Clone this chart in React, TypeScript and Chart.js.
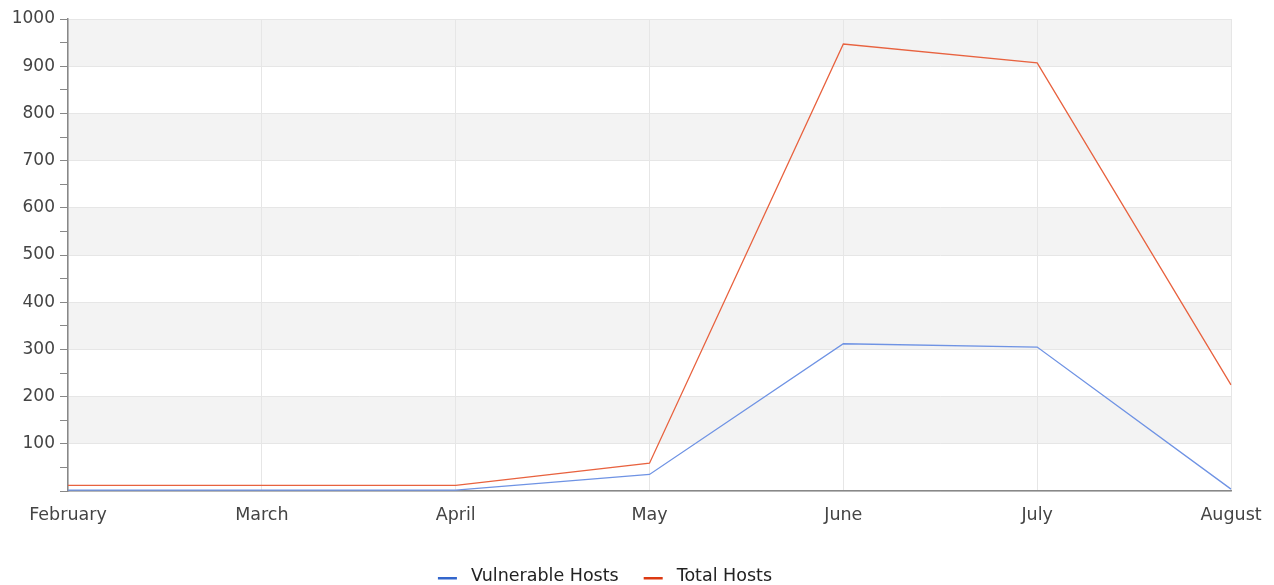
import React, { useEffect, useRef } from "react";
import { Chart, registerables } from "chart.js";

Chart.register(...registerables);

const months = ["February", "March", "April", "May", "June", "July", "August"];
const vulnerableHosts = [2, 2, 2, 35, 312, 305, 4];
const totalHosts = [12, 12, 12, 59, 947, 907, 225];
const yTicks = [100, 200, 300, 400, 500, 600, 700, 800, 900, 1000];
const seriesNames = ["Vulnerable Hosts", "Total Hosts"];
const legendColors = ["#3366cc", "#dc3912"];
const lineColors = ["#6f93e4", "#e8623f"];

const FONT = "DejaVu Sans";

const bandPlugin = {
  id: "bands",
  beforeDraw(chart: any) {
    const { ctx, chartArea, scales } = chart;
    const y = scales.y;
    ctx.save();
    ctx.fillStyle = "#f3f3f3";
    for (let v = 100; v < 1000; v += 200) {
      const top = y.getPixelForValue(v + 100);
      const bot = y.getPixelForValue(v);
      ctx.fillRect(chartArea.left, top, chartArea.right - chartArea.left, bot - top);
    }
    ctx.restore();
  },
};

const legendPlugin = {
  id: "customLegend",
  afterDraw(chart: any) {
    const { ctx } = chart;
    const datasets = chart.data.datasets;
    ctx.save();
    ctx.font = `17.5px "${FONT}"`;
    ctx.textBaseline = "alphabetic";
    const markW = 19;
    const markGap = 14;
    const itemGap = 25;
    const widths = datasets.map((d: any) => markW + markGap + ctx.measureText(d.label).width);
    const total = widths.reduce((a: number, b: number) => a + b, 0) + itemGap * (datasets.length - 1);
    let x = 605 - total / 2;
    const base = 581;
    datasets.forEach((d: any, i: number) => {
      ctx.fillStyle = d.backgroundColor;
      ctx.fillRect(x, 577, markW, 2.5);
      ctx.fillStyle = "#222";
      ctx.textAlign = "left";
      ctx.fillText(d.label, x + markW + markGap, base);
      x += widths[i] + itemGap;
    });
    ctx.restore();
  },
};

export default function App() {
  const ref = useRef<HTMLCanvasElement>(null);
  useEffect(() => {
    document.body.style.margin = "0";
    const chart = new Chart(ref.current!, {
      type: "line",
      data: {
        labels: months,
        datasets: [
          {
            label: seriesNames[0],
            data: vulnerableHosts,
            borderColor: lineColors[0],
            backgroundColor: legendColors[0],
            borderWidth: 1.3,
            pointRadius: 0,
            tension: 0,
          },
          {
            label: seriesNames[1],
            data: totalHosts,
            borderColor: lineColors[1],
            backgroundColor: legendColors[1],
            borderWidth: 1.3,
            pointRadius: 0,
            tension: 0,
          },
        ],
      },
      plugins: [bandPlugin, legendPlugin],
      options: {
        animation: false,
        responsive: false,
        layout: { padding: { left: 0, right: 43, top: 19, bottom: 44 } },
        plugins: {
          tooltip: { enabled: false },
          legend: { display: false },
        },
        scales: {
          x: {
            offset: false,
            grid: {
              color: "#e6e6e6",
              drawTicks: false,
            },
            border: { color: "#888", width: 1.5 },
            ticks: {
              color: "#444",
              font: { family: FONT, size: 17.5 },
              padding: 14,
              maxRotation: 0,
              autoSkip: false,
            },
            afterFit: (s: any) => {
              s.height = 50;
              s.paddingLeft = 0;
              s.paddingRight = 0;
            },
          },
          y: {
            min: 0,
            max: 1000,
            grid: {
              color: (c: any) => (c.tick && c.tick.value % 100 === 0 ? "#e6e6e6" : "rgba(0,0,0,0)"),
              tickColor: "#888",
              tickLength: 8,
            },
            border: { color: "#888", width: 1.5 },
            ticks: {
              stepSize: 50,
              color: "#444",
              font: { family: FONT, size: 17 },
              padding: 5,
              autoSkip: false,
              callback: (v: any) => (yTicks.includes(Number(v)) ? String(v) : ""),
            },
            afterFit: (s: any) => {
              s.width = 68;
              s.paddingTop = 0;
              s.paddingBottom = 0;
            },
          },
        },
      },
    });
    return () => chart.destroy();
  }, []);
  return <canvas ref={ref} width={1274} height={585} style={{ display: "block" }} />;
}
